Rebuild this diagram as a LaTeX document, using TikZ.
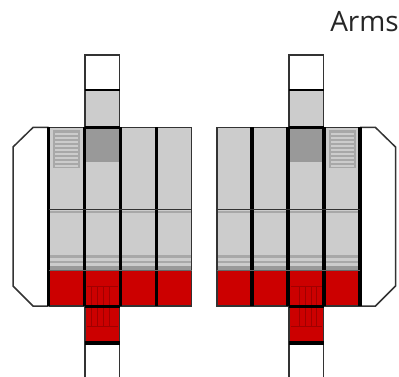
\documentclass[tikz,border=0pt]{standalone}
\usepackage{fontspec}
\setmainfont{Open Sans}
\definecolor{armgray}{HTML}{CCCCCC}
\definecolor{armdark}{HTML}{999999}
\definecolor{armstripe}{HTML}{A8A8A8}
\definecolor{armred}{HTML}{CC0000}
\definecolor{armredline}{HTML}{A00000}
\tikzset{
  thinline/.style={draw=black!80,line width=1.5pt},
  thickline/.style={draw=black,line width=3.4pt},
  midline/.style={draw=black,line width=2.7pt},
}
% #1 = x of the origin, #2 = 1 or -1 for the mirror
\newcommand{\armside}[2]{%
\begin{scope}[shift={(#1,0)},xscale=#2]
  % side shell
  \draw[thinline,fill=white] (48.5,127.5) -- (33,127.5) -- (13,147) -- (13,286) -- (33,306) -- (48.5,306);
  % fills
  \fill[armgray] (48.5,127.5) rectangle (191.5,270);
  \fill[armred] (48.5,270) rectangle (191.5,306);
  \fill[armgray] (85,90) rectangle (119.5,127.5);
  \fill[armred] (85,306) rectangle (119.5,343);
  \fill[white] (85,55) rectangle (119.5,90);
  \fill[white] (85,343) rectangle (119.5,377);
  \fill[armdark] (85,127.5) rectangle (120,162.5);
  % lined block
  \fill[armstripe] (52.5,130.5) rectangle (80,168);
  \foreach \yy in {133.5,137.5,...,166}{\fill[armgray] (54.5,\yy) rectangle (78,\yy+2);}
  % grooves above the red
  \fill[armstripe] (48.5,210.5) rectangle (191.5,212.5);
  \fill[armstripe] (48.5,255) rectangle (191.5,258);
  \fill[armstripe] (48.5,260.5) rectangle (191.5,263);
  \fill[armdark] (48.5,265.5) rectangle (191.5,270);
  % red lines
  \draw[armredline,line width=.8pt] (87,286) -- (118,286) (87,326) -- (118,326);
  \foreach \xx in {91.7,97.3,103,109}{\draw[armredline,line width=.8pt] (\xx,286) -- (\xx,326);}
  % outlines
  \draw[thinline] (48.5,127.5) -- (191.5,127.5) -- (191.5,306) -- (48.5,306);
  \draw[thinline] (85,127.5) -- (85,55) -- (119.5,55) -- (119.5,127.5);
  \draw[thinline] (85,306) -- (85,377) (119.5,306) -- (119.5,377);
  \draw[midline] (85,90) -- (119.5,90) (85,127.5) -- (119.5,127.5) (85,306.5) -- (119.5,306.5);
  \draw[thickline] (85,343) -- (119.5,343);
  \draw[thickline] (48.5,127.5) -- (48.5,306) (84.5,127.5) -- (84.5,306) (120.5,127.5) -- (120.5,306) (156.5,127.5) -- (156.5,306);
  \draw[line width=1.6pt,draw=black!80] (48.5,209.5) -- (191.5,209.5);
  \draw[line width=.6pt,draw=black!60] (48.5,270) -- (191.5,270);
\end{scope}}
\begin{document}
\begin{tikzpicture}[x=1pt,y=-1pt]
\useasboundingbox (0,0) rectangle (399,377);
\armside{0}{1}
\armside{408.5}{-1}
\node[anchor=base east,inner sep=0pt,text=black!85,font=\fontsize{28}{28}\selectfont] (title) at (399,32) {Arms};
\end{tikzpicture}
\end{document}
